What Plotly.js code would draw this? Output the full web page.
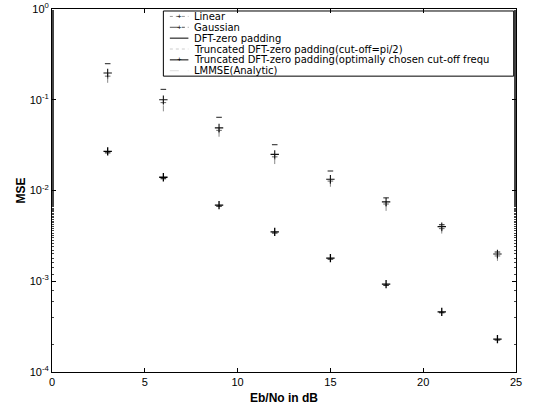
<!DOCTYPE html>
<html>
<head>
<meta charset="utf-8">
<script src="https://cdn.plot.ly/plotly-3.0.1.min.js"></script>
<style>html,body{margin:0;padding:0;background:#fff;}#chart{width:535px;height:415px;}</style>
</head>
<body>
<div id="chart"></div>
<script>
// Eb/No values (dB)
const ebno = [3, 6, 9, 12, 15, 18, 21, 24];
// MSE series
const linearMSE   = [0.197, 0.100, 0.049, 0.025, 0.0133, 0.0075, 0.0040, 0.0020];
const gaussianMSE = [0.182, 0.093, 0.046, 0.0235, 0.0127, 0.0071, 0.0038, 0.0019];
const dftZeroMSE  = [0.250, 0.130, 0.064, 0.032, 0.0164, 0.0083, 0.0042, 0.0021];
const truncPi2MSE = [0.165, 0.080, 0.042, 0.021, 0.0118, 0.0064, 0.0036, 0.0018];
const truncOptMSE = [0.027, 0.014, 0.0069, 0.0035, 0.0018, 0.00093, 0.00046, 0.00023];
const lmmseMSE    = [0.026, 0.0135, 0.0067, 0.0034, 0.00175, 0.0009, 0.00045, 0.000225];
// legend labels
const legendNames = [
  "Linear",
  "Gaussian",
  "DFT-zero padding",
  "Truncated DFT-zero padding(cut-off=pi/2)",
  "Truncated DFT-zero padding(optimally chosen cut-off frequ",
  "LMMSE(Analytic)"
];
// tick labels
const xTicks = [0, 5, 10, 15, 20, 25];
const yTickVals = [1e-4, 1e-3, 1e-2, 1e-1, 1];
const yTickText = ["10<sup>-4</sup>", "10<sup>-3</sup>", "10<sup>-2</sup>", "10<sup>-1</sup>", "10<sup>0</sup>"];

const FONT = "Liberation Sans, Arial, sans-serif";
const LFONT = "DejaVu Sans, sans-serif";

const traces = [
  {x: ebno, y: dftZeroMSE, mode: "markers", name: legendNames[2],
   marker: {symbol: "line-ew", size: 4, line: {width: 1.2, color: "#444"}}},
  {x: ebno, y: truncPi2MSE, mode: "markers", name: legendNames[3],
   marker: {symbol: "line-ns", size: 4, line: {width: 1, color: "#888"}}},
  {x: ebno, y: gaussianMSE, mode: "markers", name: legendNames[1],
   marker: {symbol: "cross-thin", size: 4, line: {width: 1, color: "#666"}}},
  {x: ebno, y: linearMSE, mode: "markers", name: legendNames[0],
   marker: {symbol: "cross-thin", size: 6, line: {width: 1.1, color: "#111"}}},
  {x: ebno, y: lmmseMSE, mode: "markers", name: legendNames[5],
   marker: {symbol: "line-ew", size: 4, line: {width: 1.2, color: "#333"}}},
  {x: ebno, y: truncOptMSE, mode: "markers", name: legendNames[4],
   marker: {symbol: "cross-thin", size: 6, line: {width: 1.3, color: "#000"}}}
];

// custom compact legend (MATLAB style)
const legX0 = 0.240, legX1 = 0.995, legY1 = 0.9945, legY0 = 0.815;
const rowStep = (legY1 - legY0) / legendNames.length;
const sampleDash = ["dot", "dashdot", "solid", "dot", "solid", "dash"];
const sampleColor = ["#999", "#555", "#000", "#ccc", "#000", "#ddd"];
const samplePlus = [true, true, false, false, true, false];
const shapes = [{type: "rect", xref: "paper", yref: "paper", x0: legX0, x1: legX1, y0: legY0, y1: legY1,
  line: {color: "#000", width: 1}, fillcolor: "rgba(255,255,255,0)"}];
const annotations = [];
legendNames.forEach((n, i) => {
  const yy = legY1 - rowStep * (i + 0.5);
  shapes.push({type: "line", xref: "paper", yref: "paper", x0: legX0 + 0.014, x1: legX0 + 0.054, y0: yy, y1: yy,
    line: {color: sampleColor[i], width: 1, dash: sampleDash[i]}});
  if (samplePlus[i]) annotations.push({xref: "paper", yref: "paper", x: legX0 + 0.034, y: yy, text: "+",
    showarrow: false, borderpad: 0, font: {family: FONT, size: 8, color: "#000"}, xanchor: "center", yanchor: "middle"});
  annotations.push({xref: "paper", yref: "paper", x: legX0 + 0.064, y: yy, text: n, showarrow: false, borderpad: 0,
    xanchor: "left", yanchor: "middle", font: {family: LFONT, size: 10, color: "#000"}});
});

const layout = {
  width: 535, height: 415,
  margin: {l: 52, r: 19, t: 9, b: 43, pad: 0},
  paper_bgcolor: "#fff", plot_bgcolor: "#fff",
  showlegend: false,
  font: {family: FONT, size: 11, color: "#000"},
  xaxis: {range: [0, 25], tickvals: xTicks, ticks: "inside", ticklen: 4, tickcolor: "#000",
    showline: true, linecolor: "#000", linewidth: 1, mirror: "ticks", showgrid: false, zeroline: false,
    tickfont: {family: FONT, size: 11}, title: {text: "<b>Eb/No in dB</b>", font: {family: FONT, size: 12}, standoff: 6}},
  yaxis: {type: "log", range: [-4, 0], tickvals: yTickVals, ticktext: yTickText, ticks: "inside", ticklen: 4,
    tickcolor: "#000", showline: true, linecolor: "#000", linewidth: 1, mirror: "ticks", showgrid: false,
    zeroline: false, tickfont: {family: FONT, size: 11},
    minor: {ticks: "inside", ticklen: 2, tickcolor: "#444", showgrid: false},
    title: {text: "<b>MSE</b>", font: {family: FONT, size: 12}, standoff: 1}},
  shapes: shapes,
  annotations: annotations
};

Plotly.newPlot("chart", traces, layout, {staticPlot: true, displayModeBar: false});
</script>
</body>
</html>
